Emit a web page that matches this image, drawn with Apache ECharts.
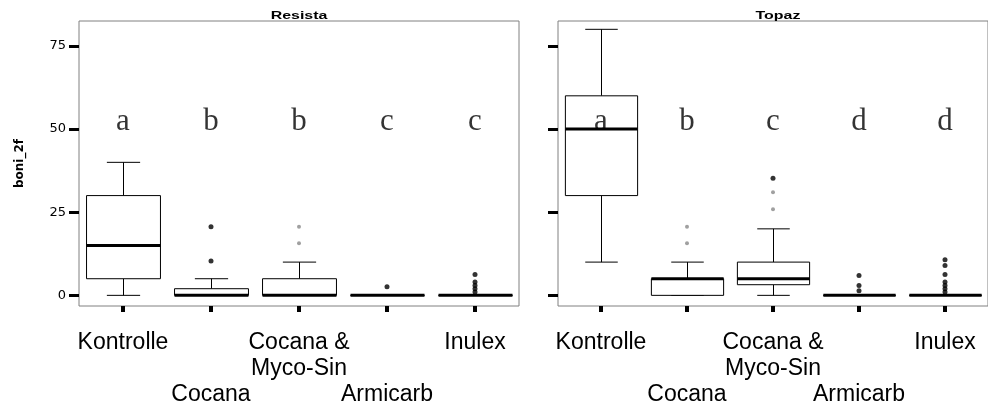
<!DOCTYPE html>
<html>
<head>
<meta charset="utf-8">
<script src="https://cdn.jsdelivr.net/npm/echarts@6/dist/echarts.min.js"></script>
<style>
  html, body { margin: 0; padding: 0; background: #fff; }
  #chart { width: 988px; height: 408px; }
</style>
</head>
<body>
<div id="chart"></div>
<script>
// categories and tick labels
const categories = ['Kontrolle', 'Cocana', 'Cocana & Myco-Sin', 'Armicarb', 'Inulex'];
const yTicks = [0, 25, 50, 75];

// boxes: [min, q1, median, q3, max]
const resistaBoxes = [[0, 5, 15, 30, 40], [0, 0, 0, 2, 5], [0, 0, 0, 5, 10], [0, 0, 0, 0, 0], [0, 0, 0, 0, 0]];
const topazBoxes = [[10, 30, 50, 60, 80], [0, 0, 5, 5, 10], [0, 3.2, 5, 10, 20], [0, 0, 0, 0, 0], [0, 0, 0, 0, 0]];

// significance letters
const resistaLetters = ['a', 'b', 'b', 'c', 'c'];
const topazLetters = ['a', 'b', 'c', 'd', 'd'];

// outliers [category index, value]
const resistaOutliers = [[1, 20.6], [1, 10.3], [3, 2.6], [4, 1], [4, 2], [4, 3], [4, 4], [4, 6.3]];
const resistaExtremes = [[2, 20.6], [2, 15.7]];
const topazOutliers = [[2, 35.2], [3, 1.4], [3, 3], [3, 6], [4, 1], [4, 2], [4, 3], [4, 4], [4, 6.3], [4, 9], [4, 10.7]];
const topazExtremes = [[1, 20.6], [1, 15.7], [2, 31], [2, 25.9]];

const labelRows = [0, 2, 0, 2, 0];
const letterY = 52.1;

const renderBox = (params, api) => {
    const i = api.value(0);
    const lo = api.coord([i, api.value(1)]);
    const q1 = api.coord([i, api.value(2)]);
    const med = api.coord([i, api.value(3)]);
    const q3 = api.coord([i, api.value(4)]);
    const hi = api.coord([i, api.value(5)]);
    const w = api.size([1, 0])[0] * 0.84;
    const cap = w * 0.45;
    const x = Math.round(lo[0]) + 0.5;
    const line = (x1, y1, x2, y2, lw) => ({
        type: 'line',
        shape: { x1, y1, x2, y2 },
        style: { stroke: '#000', lineWidth: lw || 1 },
    });
    return {
        type: 'group',
        children: [
            line(x, q3[1], x, hi[1]),
            line(x, q1[1], x, lo[1]),
            line(x - cap / 2, hi[1], x + cap / 2, hi[1]),
            line(x - cap / 2, lo[1], x + cap / 2, lo[1]),
            {
                type: 'rect',
                shape: { x: x - w / 2, y: q3[1], width: w, height: q1[1] - q3[1] },
                style: { fill: '#fff', stroke: '#000', lineWidth: 1 },
            },
            line(x - w / 2, med[1], x + w / 2, med[1], 3),
        ],
    };
};

const makeX = (gridIndex) => ({
    type: 'category',
    gridIndex,
    data: categories,
    boundaryGap: true,
    axisLine: { show: false, onZero: false },
    axisTick: {
        show: true,
        alignWithLabel: true,
        interval: 0,
        length: 6,
        lineStyle: { color: '#000', width: 4 },
    },
    axisLabel: {
        interval: 0,
        margin: 24,
        color: '#000',
        fontFamily: 'Liberation Sans',
        fontSize: 23,
        lineHeight: 26,
        verticalAlign: 'top',
        formatter: (v, i) => '\n'.repeat(labelRows[i]) + v.replace('& ', '&\n'),
    },
    splitLine: { show: false },
});

const makeY = (gridIndex, showLabel) => ({
    type: 'value',
    gridIndex,
    min: -3.2,
    max: 82.5,
    name: showLabel ? 'boni_2f' : '',
    nameLocation: 'middle',
    nameRotate: 90,
    nameGap: 53,
    nameTextStyle: {
        color: '#000',
        fontFamily: 'DejaVu Sans',
        fontWeight: 'bold',
        fontSize: 12,
    },
    axisLine: { show: false },
    axisTick: {
        show: true,
        length: 10,
        customValues: yTicks,
        lineStyle: { color: '#000', width: 3 },
    },
    axisLabel: {
        show: showLabel,
        customValues: yTicks,
        margin: 13,
        color: '#000',
        fontFamily: 'DejaVu Sans',
        fontSize: 13,
    },
    splitLine: { show: false },
});

const panelSeries = (idx, boxes, letters, outliers, extremes) => [
    {
        type: 'custom',
        xAxisIndex: idx,
        yAxisIndex: idx,
        renderItem: renderBox,
        encode: { x: 0, y: [1, 2, 3, 4, 5] },
        data: boxes.map((b, i) => [i, ...b]),
        z: 2,
    },
    {
        type: 'scatter',
        xAxisIndex: idx,
        yAxisIndex: idx,
        symbol: 'circle',
        symbolSize: 5,
        itemStyle: { color: '#000' },
        data: outliers,
        z: 3,
    },
    {
        type: 'scatter',
        xAxisIndex: idx,
        yAxisIndex: idx,
        symbol: 'circle',
        symbolSize: 4,
        itemStyle: { color: '#888' },
        data: extremes,
        z: 3,
    },
    {
        type: 'scatter',
        xAxisIndex: idx,
        yAxisIndex: idx,
        symbolSize: 0,
        data: letters.map((l, i) => [i, letterY, l]),
        label: {
            show: true,
            position: 'inside',
            formatter: p => p.value[2],
            color: '#000',
            fontFamily: 'Liberation Serif',
            fontSize: 31,
        },
        z: 5,
    },
];

const chart = echarts.init(document.getElementById('chart'));
chart.setOption({
    backgroundColor: '#fff',
    animation: false,
    grid: [
        { left: 79, right: 469, top: 21, bottom: 101, show: true, borderColor: '#808080', borderWidth: 1, backgroundColor: '#fff' },
        { left: 558, right: -10, top: 21, bottom: 101, show: true, borderColor: '#808080', borderWidth: 1, backgroundColor: '#fff' },
    ],
    graphic: [
        { type: 'text', x: 299, y: 10, scaleX: 1.45, style: { text: 'Resista', align: 'center', font: 'bold 11px "Liberation Sans"', fill: '#000' } },
        { type: 'text', x: 778, y: 10, scaleX: 1.45, style: { text: 'Topaz', align: 'center', font: 'bold 11px "Liberation Sans"', fill: '#000' } },
    ],
    xAxis: [makeX(0), makeX(1)],
    yAxis: [makeY(0, true), makeY(1, false)],
    series: [
        ...panelSeries(0, resistaBoxes, resistaLetters, resistaOutliers, resistaExtremes),
        ...panelSeries(1, topazBoxes, topazLetters, topazOutliers, topazExtremes),
    ],
});
</script>
</body>
</html>
